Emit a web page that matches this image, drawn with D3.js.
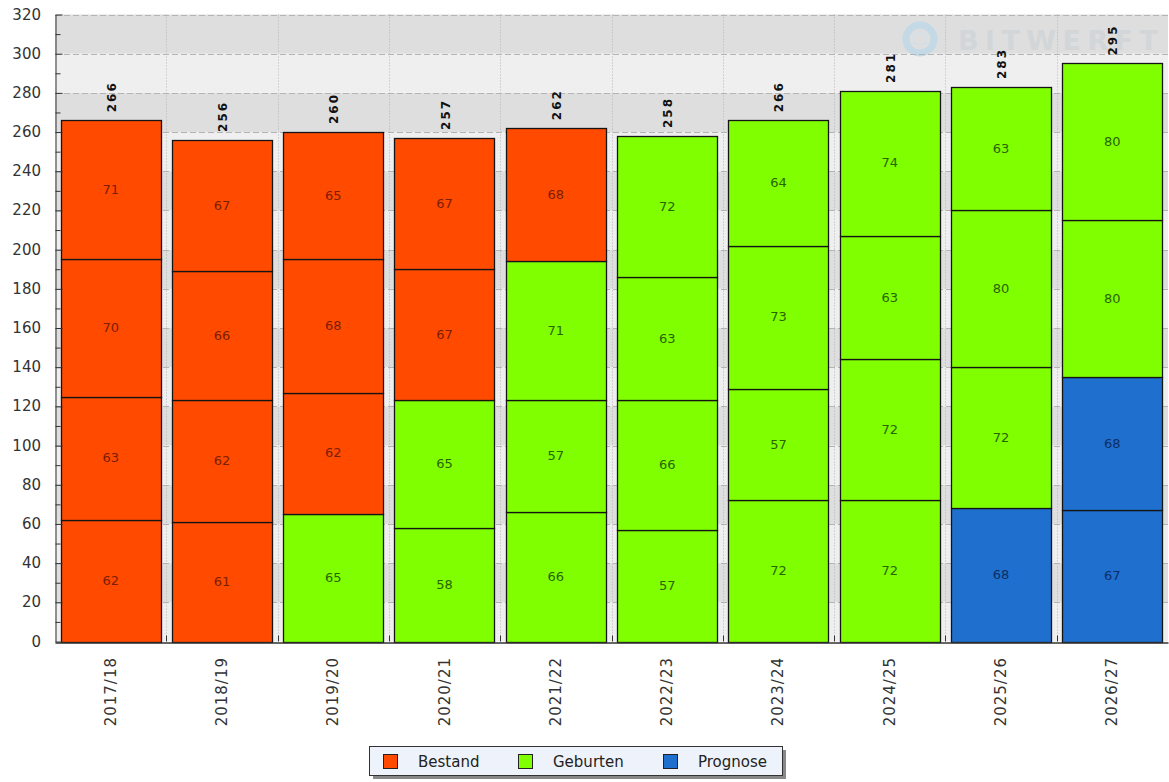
<!DOCTYPE html>
<html>
<head>
<meta charset="utf-8">
<script src="https://cdn.jsdelivr.net/npm/d3@7"></script>
<style>
  body { margin: 0; background: #fff; }
  svg { display: block; font-family: "DejaVu Sans", sans-serif; }
</style>
</head>
<body>
<div id="canvas"></div>
<script>
// Schuljahre
const years = ["2017/18", "2018/19", "2019/20", "2020/21", "2021/22",
               "2022/23", "2023/24", "2024/25", "2025/26", "2026/27"];

// Werte pro Stufe, von unten nach oben
const stufe1 = [62, 61, 65, 58, 66, 57, 72, 72, 68, 67];
const stufe2 = [63, 62, 62, 65, 57, 66, 57, 72, 72, 68];
const stufe3 = [70, 66, 68, 67, 71, 63, 73, 63, 80, 80];
const stufe4 = [71, 67, 65, 67, 68, 72, 64, 74, 63, 80];

// Herkunft je Segment: B = Bestand, G = Geburten, P = Prognose
const typ1 = ["B", "B", "G", "G", "G", "G", "G", "G", "P", "P"];
const typ2 = ["B", "B", "B", "G", "G", "G", "G", "G", "G", "P"];
const typ3 = ["B", "B", "B", "B", "G", "G", "G", "G", "G", "G"];
const typ4 = ["B", "B", "B", "B", "B", "G", "G", "G", "G", "G"];

const seriesKeys = ["B", "G", "P"];
const seriesNames = ["Bestand", "Geburten", "Prognose"];
const yTicks = [0, 20, 40, 60, 80, 100, 120, 140, 160, 180, 200, 220, 240, 260, 280, 300, 320];

const fill = { B: "#ff4a00", G: "#7fff00", P: "#1f6fcf" };
const labelFill = { B: "#7a1e00", G: "#2a6400", P: "#0c2e66" };

const width = 1169, height = 782;
const svg = d3.select("#canvas").append("svg")
    .attr("width", width).attr("height", height);

const x = d3.scaleBand().domain(years).range([55, 1168]);
const y = d3.scaleLinear().domain([0, 320]).range([641.5, 14.5]);

// background bands
const bands = yTicks.slice(0, -1);
svg.append("g").selectAll("rect").data(bands).enter().append("rect")
    .attr("x", 55).attr("width", 1168 - 55)
    .attr("y", d => y(d + 20)).attr("height", d => y(d) - y(d + 20))
    .attr("fill", d => (d / 20) % 2 === 1 ? "#dedede" : "#efefef");

// watermark
const wm = svg.append("g");
wm.append("circle").attr("cx", 920).attr("cy", 39).attr("r", 14)
    .attr("fill", "none").attr("stroke", "#c3d9e6").attr("stroke-width", 7);
wm.append("rect").attr("x", 914).attr("y", 34).attr("width", 12).attr("height", 10)
    .attr("fill", "none").attr("stroke", "#d6dfe6").attr("stroke-width", 2);
wm.append("text").attr("x", 958).attr("y", 50)
    .attr("font-size", 27).attr("font-weight", "bold")
    .attr("textLength", 200).attr("lengthAdjust", "spacing")
    .attr("fill", "#d2d6d9")
    .text("BITWERFT");

// horizontal grid
svg.append("g").selectAll("line").data(yTicks.slice(1)).enter().append("line")
    .attr("x1", 55).attr("x2", 1168)
    .attr("y1", d => Math.round(y(d)) + 0.5).attr("y2", d => Math.round(y(d)) + 0.5)
    .attr("stroke", "#b4b4b4").attr("stroke-dasharray", "6,3");

// vertical grid
svg.append("g").selectAll("line").data(years.slice(1)).enter().append("line")
    .attr("x1", d => Math.round(x(d)) + 0.5).attr("x2", d => Math.round(x(d)) + 0.5)
    .attr("y1", y(320)).attr("y2", y(0))
    .attr("stroke", "#b4b4b4").attr("stroke-dasharray", "1,2");

// stacked segments
const levels = [stufe1, stufe2, stufe3, stufe4];
const types = [typ1, typ2, typ3, typ4];
const segments = [];
years.forEach((yr, i) => {
    let base = 0;
    levels.forEach((lv, k) => {
        segments.push({ year: yr, y0: base, y1: base + lv[i], value: lv[i], type: types[k][i] });
        base += lv[i];
    });
});
const totals = years.map((yr, i) => ({ year: yr, total: d3.sum(levels, lv => lv[i]) }));

const bw = x.bandwidth();
const barW = bw * 0.9;

const graph = svg.append("g");
graph.selectAll("rect").data(segments).enter().append("rect")
    .attr("x", d => Math.round(x(d.year) + bw * 0.05) + 0.5)
    .attr("y", d => Math.round(y(d.y1)) + 0.5)
    .attr("width", Math.round(barW))
    .attr("height", d => Math.round(y(d.y0)) - Math.round(y(d.y1)))
    .attr("fill", d => fill[d.type])
    .attr("stroke", "#141414").attr("stroke-width", 1.3);

graph.selectAll("text.seg").data(segments).enter().append("text")
    .attr("class", "seg")
    .attr("x", d => x(d.year) + bw / 2)
    .attr("y", d => y((d.y0 + d.y1) / 2) + 4)
    .attr("text-anchor", "middle")
    .attr("font-size", 13)
    .attr("fill", d => labelFill[d.type])
    .text(d => d.value);

graph.selectAll("text.tot").data(totals).enter().append("text")
    .attr("class", "tot")
    .attr("transform", d => `translate(${x(d.year) + bw / 2 + 5},${y(d.total) - 8}) rotate(-90)`)
    .attr("font-size", 12).attr("font-weight", "bold")
    .attr("letter-spacing", 2)
    .attr("fill", "#111")
    .text(d => d.total);

// y axis
const yAxis = svg.append("g").attr("transform", "translate(55.5,0)")
    .call(d3.axisRight(y).tickValues(d3.range(0, 321, 10)).tickSize(0).tickFormat(""));
yAxis.select(".domain").attr("stroke", "#333");
yAxis.selectAll(".tick line")
    .attr("x2", d => d % 20 === 0 ? 7 : 5).attr("stroke", "#333");
svg.append("g").selectAll("text").data(yTicks).enter().append("text")
    .attr("x", 41).attr("y", d => y(d) + 5)
    .attr("text-anchor", "end").attr("font-size", 15).attr("fill", "#333")
    .text(d => d);

// x axis
const xAxis = svg.append("g").attr("transform", `translate(0,${Math.round(y(0)) + 0.5})`)
    .call(d3.axisBottom(x).tickSize(0).tickFormat(""));
xAxis.select(".domain").attr("stroke", "#333").attr("stroke-width", 1.5);
svg.append("g").selectAll("line").data(years.slice(1)).enter().append("line")
    .attr("x1", d => Math.round(x(d)) + 0.5).attr("x2", d => Math.round(x(d)) + 0.5)
    .attr("y1", y(0)).attr("y2", y(0) - 6).attr("stroke", "#333");
svg.append("g").selectAll("text").data(years).enter().append("text")
    .attr("transform", d => `translate(${x(d) + bw / 2 + 5},${657}) rotate(-90)`)
    .attr("text-anchor", "end").attr("font-size", 15)
    .attr("letter-spacing", 1).attr("fill", "#333")
    .text(d => d);

// legend
const legend = svg.append("g").attr("transform", "translate(369,746)");
legend.append("rect").attr("x", 4).attr("y", 4).attr("width", 413).attr("height", 29)
    .attr("fill", "#555").attr("opacity", 0.7);
legend.append("rect").attr("x", 0.5).attr("y", 0.5).attr("width", 413).attr("height", 29)
    .attr("fill", "#eef3fb").attr("stroke", "#333");
const legendX = [14, 149, 294];
seriesKeys.forEach((k, i) => {
    legend.append("rect").attr("x", legendX[i] + 0.5).attr("y", 8.5).attr("width", 14).attr("height", 14)
        .attr("fill", fill[k]).attr("stroke", "#222");
    legend.append("text").attr("x", legendX[i] + 35).attr("y", 21)
        .attr("font-size", 15).attr("fill", "#222").text(seriesNames[i]);
});
</script>
</body>
</html>
